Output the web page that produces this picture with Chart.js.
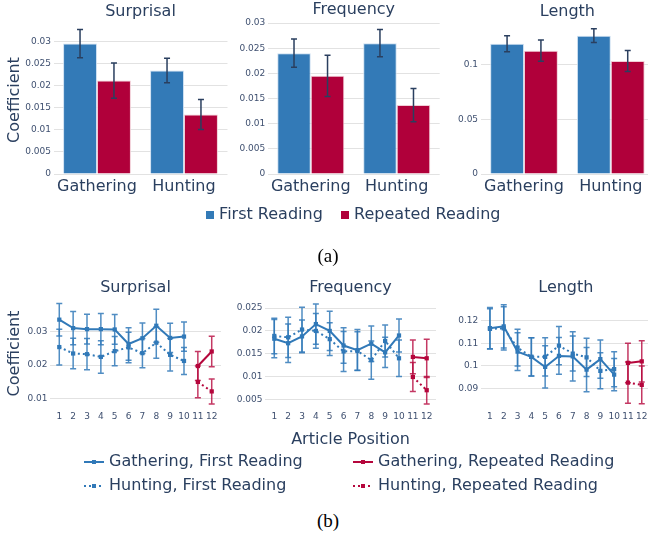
<!DOCTYPE html>
<html>
<head>
<meta charset="utf-8">
<script src="https://cdn.jsdelivr.net/npm/chart.js@4.4.1/dist/chart.umd.min.js"></script>
<style>
body { margin: 0; width: 648px; height: 543px; overflow: hidden; background: #fff; position: relative; font-family: 'DejaVu Sans'; color: #2a3f5f; }
canvas { position: absolute; }
.lbl { position: absolute; font-size: 16px; line-height: 20px; white-space: nowrap; }
.lbl svg, .lbl span.sq { vertical-align: middle; }
.sq { display: inline-block; width: 8px; height: 8px; }
.cap { position: absolute; font-family: 'Liberation Serif'; font-size: 19px; color: #000; width: 60px; text-align: center; }
</style>
</head>
<body>
<canvas id="barSurprisal" width="230" height="200" style="left:0;top:0"></canvas>
<canvas id="barFrequency" width="228" height="200" style="left:215px;top:0"></canvas>
<canvas id="barLength" width="216" height="200" style="left:440px;top:0"></canvas>

<div class="lbl" style="left:206px;top:204px"><span class="sq" style="background:#337ab7"></span> First Reading</div>
<div class="lbl" style="left:341px;top:204px"><span class="sq" style="background:#b0003a"></span> Repeated Reading</div>
<div class="cap" style="left:298px;top:245px">(a)</div>

<canvas id="lineSurprisal" width="225" height="160" style="left:0;top:270px"></canvas>
<canvas id="lineFrequency" width="225" height="183" style="left:215px;top:270px"></canvas>
<canvas id="lineLength" width="215" height="160" style="left:440px;top:270px"></canvas>

<div class="lbl" style="left:84px;top:451px"><svg width="20" height="8"><line x1="0" y1="4" x2="20" y2="4" stroke="#3179b8" stroke-width="2"/><rect x="8" y="2" width="4" height="4" fill="#3179b8"/></svg> Gathering, First Reading</div>
<div class="lbl" style="left:84px;top:475px"><svg width="20" height="8"><line x1="0" y1="4" x2="20" y2="4" stroke="#3179b8" stroke-width="2" stroke-dasharray="2,3"/><rect x="8" y="2" width="4" height="4" fill="#3179b8"/></svg> Hunting, First Reading</div>
<div class="lbl" style="left:353px;top:451px"><svg width="20" height="8"><line x1="0" y1="4" x2="20" y2="4" stroke="#b5063c" stroke-width="2"/><rect x="8" y="2" width="4" height="4" fill="#b5063c"/></svg> Gathering, Repeated Reading</div>
<div class="lbl" style="left:353px;top:475px"><svg width="20" height="8"><line x1="0" y1="4" x2="20" y2="4" stroke="#b5063c" stroke-width="2" stroke-dasharray="2,3"/><rect x="8" y="2" width="4" height="4" fill="#b5063c"/></svg> Hunting, Repeated Reading</div>
<div class="cap" style="left:298px;top:510px">(b)</div>

<script>
// (a) mean coefficients per task
const tasks = ['Gathering', 'Hunting'];

const surprisalFirst = [0.0296, 0.0235];
const surprisalFirstErr = [0.0032, 0.0028];
const surprisalRepeated = [0.0212, 0.0135];
const surprisalRepeatedErr = [0.0040, 0.0034];

const frequencyFirst = [0.0240, 0.0260];
const frequencyFirstErr = [0.0028, 0.0027];
const frequencyRepeated = [0.0195, 0.0137];
const frequencyRepeatedErr = [0.0041, 0.0033];

const lengthFirst = [0.1189, 0.1262];
const lengthFirstErr = [0.0073, 0.0062];
const lengthRepeated = [0.1125, 0.1031];
const lengthRepeatedErr = [0.0097, 0.0096];

// (b) coefficients per article position
const articlePositions = [1, 2, 3, 4, 5, 6, 7, 8, 9, 10, 11, 12];
const firstPositions = [1, 2, 3, 4, 5, 6, 7, 8, 9, 10];
const repeatedPositions = [11, 12];

const surprisalGathFirst = [0.0334, 0.0309, 0.0306, 0.0306, 0.0305, 0.0262, 0.0279, 0.0316, 0.0280, 0.0284];
const surprisalGathFirstErr = [0.0048, 0.0049, 0.0044, 0.0046, 0.0044, 0.0048, 0.0045, 0.0049, 0.0043, 0.0043];
const surprisalHuntFirst = [0.0253, 0.0234, 0.0232, 0.0224, 0.0241, 0.0252, 0.0235, 0.0266, 0.0230, 0.0212];
const surprisalHuntFirstErr = [0.0053, 0.0045, 0.0046, 0.0048, 0.0043, 0.0045, 0.0043, 0.0046, 0.0048, 0.0040];
const surprisalGathRepeated = [0.0197, 0.0240];
const surprisalGathRepeatedErr = [0.0043, 0.0045];
const surprisalHuntRepeated = [0.0150, 0.0122];
const surprisalHuntRepeatedErr = [0.0047, 0.0037];

const frequencyGathFirst = [0.0183, 0.0173, 0.0188, 0.0215, 0.0200, 0.0168, 0.0158, 0.0172, 0.0153, 0.0190];
const frequencyGathFirstErr = [0.0042, 0.0042, 0.0036, 0.0044, 0.0043, 0.0039, 0.0045, 0.0039, 0.0033, 0.0036];
const frequencyHuntFirst = [0.0189, 0.0186, 0.0203, 0.0200, 0.0182, 0.0155, 0.0156, 0.0136, 0.0178, 0.0140];
const frequencyHuntFirstErr = [0.0039, 0.0044, 0.0049, 0.0038, 0.0036, 0.0044, 0.0042, 0.0042, 0.0035, 0.0040];
const frequencyGathRepeated = [0.0143, 0.0140];
const frequencyGathRepeatedErr = [0.0037, 0.0042];
const frequencyHuntRepeated = [0.0099, 0.0070];
const frequencyHuntRepeatedErr = [0.0032, 0.0030];

const lengthGathFirst = [0.1168, 0.1176, 0.1063, 0.1040, 0.0995, 0.1044, 0.1042, 0.0983, 0.1030, 0.0961];
const lengthGathFirstErr = [0.0092, 0.0096, 0.0084, 0.0085, 0.0094, 0.0082, 0.0110, 0.0099, 0.0085, 0.0072];
const lengthHuntFirst = [0.1165, 0.1167, 0.1081, 0.1040, 0.1040, 0.1090, 0.1055, 0.1038, 0.0978, 0.0985];
const lengthHuntFirstErr = [0.0090, 0.0096, 0.0082, 0.0085, 0.0085, 0.0085, 0.0078, 0.0085, 0.0080, 0.0078];
const lengthGathRepeated = [0.1013, 0.1020];
const lengthGathRepeatedErr = [0.0088, 0.0092];
const lengthHuntRepeated = [0.0925, 0.0915];
const lengthHuntRepeatedErr = [0.0092, 0.0084];

const textColor = '#2a3f5f';
const tickColor = '#3f5070';
const gridColor = '#e2e2e2';
const blue = '#337ab7';
const red = '#b0003a';
const lineBlue = '#3179b8';
const lineRed = '#b5063c';

Chart.defaults.font.family = 'DejaVu Sans';
Chart.defaults.color = textColor;

// draws +/- error whiskers for datasets that carry an `errors` array
const errorBars = {
    id: 'errorBars',
    afterDatasetsDraw(chart) {
        let ctx = chart.ctx;
        let yScale = chart.scales.y;
        chart.data.datasets.forEach(function (ds, i) {
            if (!ds.errors) return;
            let meta = chart.getDatasetMeta(i);
            ctx.save();
            ctx.strokeStyle = ds.errorColor;
            ctx.lineWidth = 1.5;
            meta.data.forEach(function (el, j) {
                let point = ds.data[j];
                let v = typeof point === 'number' ? point : point.y;
                let top = yScale.getPixelForValue(v + ds.errors[j]);
                let bottom = yScale.getPixelForValue(v - ds.errors[j]);
                let half = 3;
                ctx.beginPath();
                ctx.moveTo(el.x, top);
                ctx.lineTo(el.x, bottom);
                ctx.moveTo(el.x - half, top);
                ctx.lineTo(el.x + half, top);
                ctx.moveTo(el.x - half, bottom);
                ctx.lineTo(el.x + half, bottom);
                ctx.stroke();
            });
            ctx.restore();
        });
    }
};

function fixWidth(w) {
    return function (scale) { scale.width = w; };
}

function fixHeight(h) {
    return function (scale) { scale.height = h; };
}

function formatTick(value) {
    return String(+value.toFixed(4));
}

function yAxis(min, max, step, width, withTitle) {
    return {
        min: min,
        max: max,
        afterFit: fixWidth(width),
        border: { display: false },
        grid: { color: gridColor, drawTicks: false, lineWidth: 1 },
        ticks: { stepSize: step, includeBounds: false, padding: 2.5, color: tickColor, font: { size: 9 }, callback: formatTick },
        title: { display: withTitle, text: 'Coefficient', color: textColor, font: { size: 16 }, padding: { top: 5.4, bottom: 0 } }
    };
}

function barChart(id, title, first, firstErr, repeated, repeatedErr, yMax, step, yWidth, withTitle, titlePad, rightPad) {
    return new Chart(document.getElementById(id), {
        type: 'bar',
        data: {
            labels: tasks,
            datasets: [{
                label: 'First Reading',
                data: first,
                errors: firstErr,
                errorColor: '#2a3f5f',
                backgroundColor: blue,
                borderColor: 'rgba(200,220,240,0.9)',
                borderWidth: 1
            }, {
                label: 'Repeated Reading',
                data: repeated,
                errors: repeatedErr,
                errorColor: '#2a3f5f',
                backgroundColor: red,
                borderColor: 'rgba(240,200,210,0.9)',
                borderWidth: 1
            }]
        },
        options: {
            responsive: false,
            animation: false,
            categoryPercentage: 0.78,
            barPercentage: 1.0,
            layout: { padding: { left: 0, right: rightPad, top: 0, bottom: 0 } },
            plugins: {
                legend: { display: false },
                tooltip: { enabled: false },
                title: { display: true, text: title, fullSize: false, color: textColor, font: { size: 16, weight: 'normal' }, padding: titlePad }
            },
            scales: {
                x: {
                    afterFit: fixHeight(26),
                    border: { display: false },
                    grid: { display: false, drawTicks: false },
                    ticks: { padding: 3, color: textColor, font: { size: 16 } }
                },
                y: yAxis(0, yMax, step, yWidth, withTitle)
            }
        },
        plugins: [errorBars]
    });
}

function points(xs, ys) {
    return xs.map(function (x, i) { return { x: x, y: ys[i] }; });
}

function lineSet(label, xs, ys, errs, color, dashed) {
    return {
        label: label,
        data: points(xs, ys),
        errors: errs,
        errorColor: color === lineBlue ? 'rgba(49,121,184,0.85)' : 'rgba(181,6,60,0.8)',
        borderColor: color,
        backgroundColor: color,
        borderWidth: 2,
        borderDash: dashed ? [2, 3] : [],
        pointStyle: 'rect',
        pointRadius: 3,
        pointBorderWidth: 0,
        tension: 0
    };
}

function lineChart(id, title, sets, yMin, yMax, step, yWidth, withTitle, xTitle, xHeight, rightPad) {
    return new Chart(document.getElementById(id), {
        type: 'line',
        data: {
            labels: articlePositions,
            datasets: [
                lineSet('Gathering, First Reading', firstPositions, sets[0], sets[1], lineBlue, false),
                lineSet('Hunting, First Reading', firstPositions, sets[2], sets[3], lineBlue, true),
                lineSet('Gathering, Repeated Reading', repeatedPositions, sets[4], sets[5], lineRed, false),
                lineSet('Hunting, Repeated Reading', repeatedPositions, sets[6], sets[7], lineRed, true)
            ]
        },
        options: {
            responsive: false,
            animation: false,
            layout: { padding: { left: 0, right: rightPad, top: 0, bottom: 0 } },
            plugins: {
                legend: { display: false },
                tooltip: { enabled: false },
                title: { display: true, text: title, fullSize: false, color: textColor, font: { size: 16, weight: 'normal' }, padding: { top: 8.4, bottom: 1.4 } }
            },
            scales: {
                x: {
                    type: 'linear',
                    min: 0.33,
                    max: 12.67,
                    afterFit: fixHeight(xHeight),
                    border: { display: false },
                    grid: { display: false, drawTicks: false },
                    ticks: { stepSize: 1, includeBounds: false, autoSkip: false, maxRotation: 0, minRotation: 0, padding: 3, color: tickColor, font: { size: 9 } },
                    title: { display: !!xTitle, text: xTitle, color: textColor, font: { size: 16 }, padding: { top: 0, bottom: 4 } }
                },
                y: yAxis(yMin, yMax, step, yWidth, withTitle)
            }
        },
        plugins: [errorBars]
    });
}

barChart('barSurprisal', 'Surprisal', surprisalFirst, surprisalFirstErr, surprisalRepeated, surprisalRepeatedErr,
    0.0336, 0.005, 53.5, true, { top: 2, bottom: 4.8 }, 2.5);
barChart('barFrequency', 'Frequency', frequencyFirst, frequencyFirstErr, frequencyRepeated, frequencyRepeatedErr,
    0.0304, 0.005, 52.8, false, { top: 0, bottom: 1.8 }, 3.3);
barChart('barLength', 'Length', lengthFirst, lengthFirstErr, lengthRepeated, lengthRepeatedErr,
    0.1341, 0.05, 40.6, false, { top: 2, bottom: 5.8 }, 1.8);

lineChart('lineSurprisal', 'Surprisal',
    [surprisalGathFirst, surprisalGathFirstErr, surprisalHuntFirst, surprisalHuntFirstErr,
     surprisalGathRepeated, surprisalGathRepeatedErr, surprisalHuntRepeated, surprisalHuntRepeatedErr],
    0.0073, 0.0395, 0.01, 50, true, '', 22, 4);
lineChart('lineFrequency', 'Frequency',
    [frequencyGathFirst, frequencyGathFirstErr, frequencyHuntFirst, frequencyHuntFirstErr,
     frequencyGathRepeated, frequencyGathRepeatedErr, frequencyHuntRepeated, frequencyHuntRepeatedErr],
    0.0031, 0.0270, 0.005, 50, false, 'Article Position', 45, 3.4);
lineChart('lineLength', 'Length',
    [lengthGathFirst, lengthGathFirstErr, lengthHuntFirst, lengthHuntFirstErr,
     lengthGathRepeated, lengthGathRepeatedErr, lengthHuntRepeated, lengthHuntRepeatedErr],
    0.0812, 0.1298, 0.01, 40.7, false, '', 22, 3.4);
</script>
</body>
</html>
